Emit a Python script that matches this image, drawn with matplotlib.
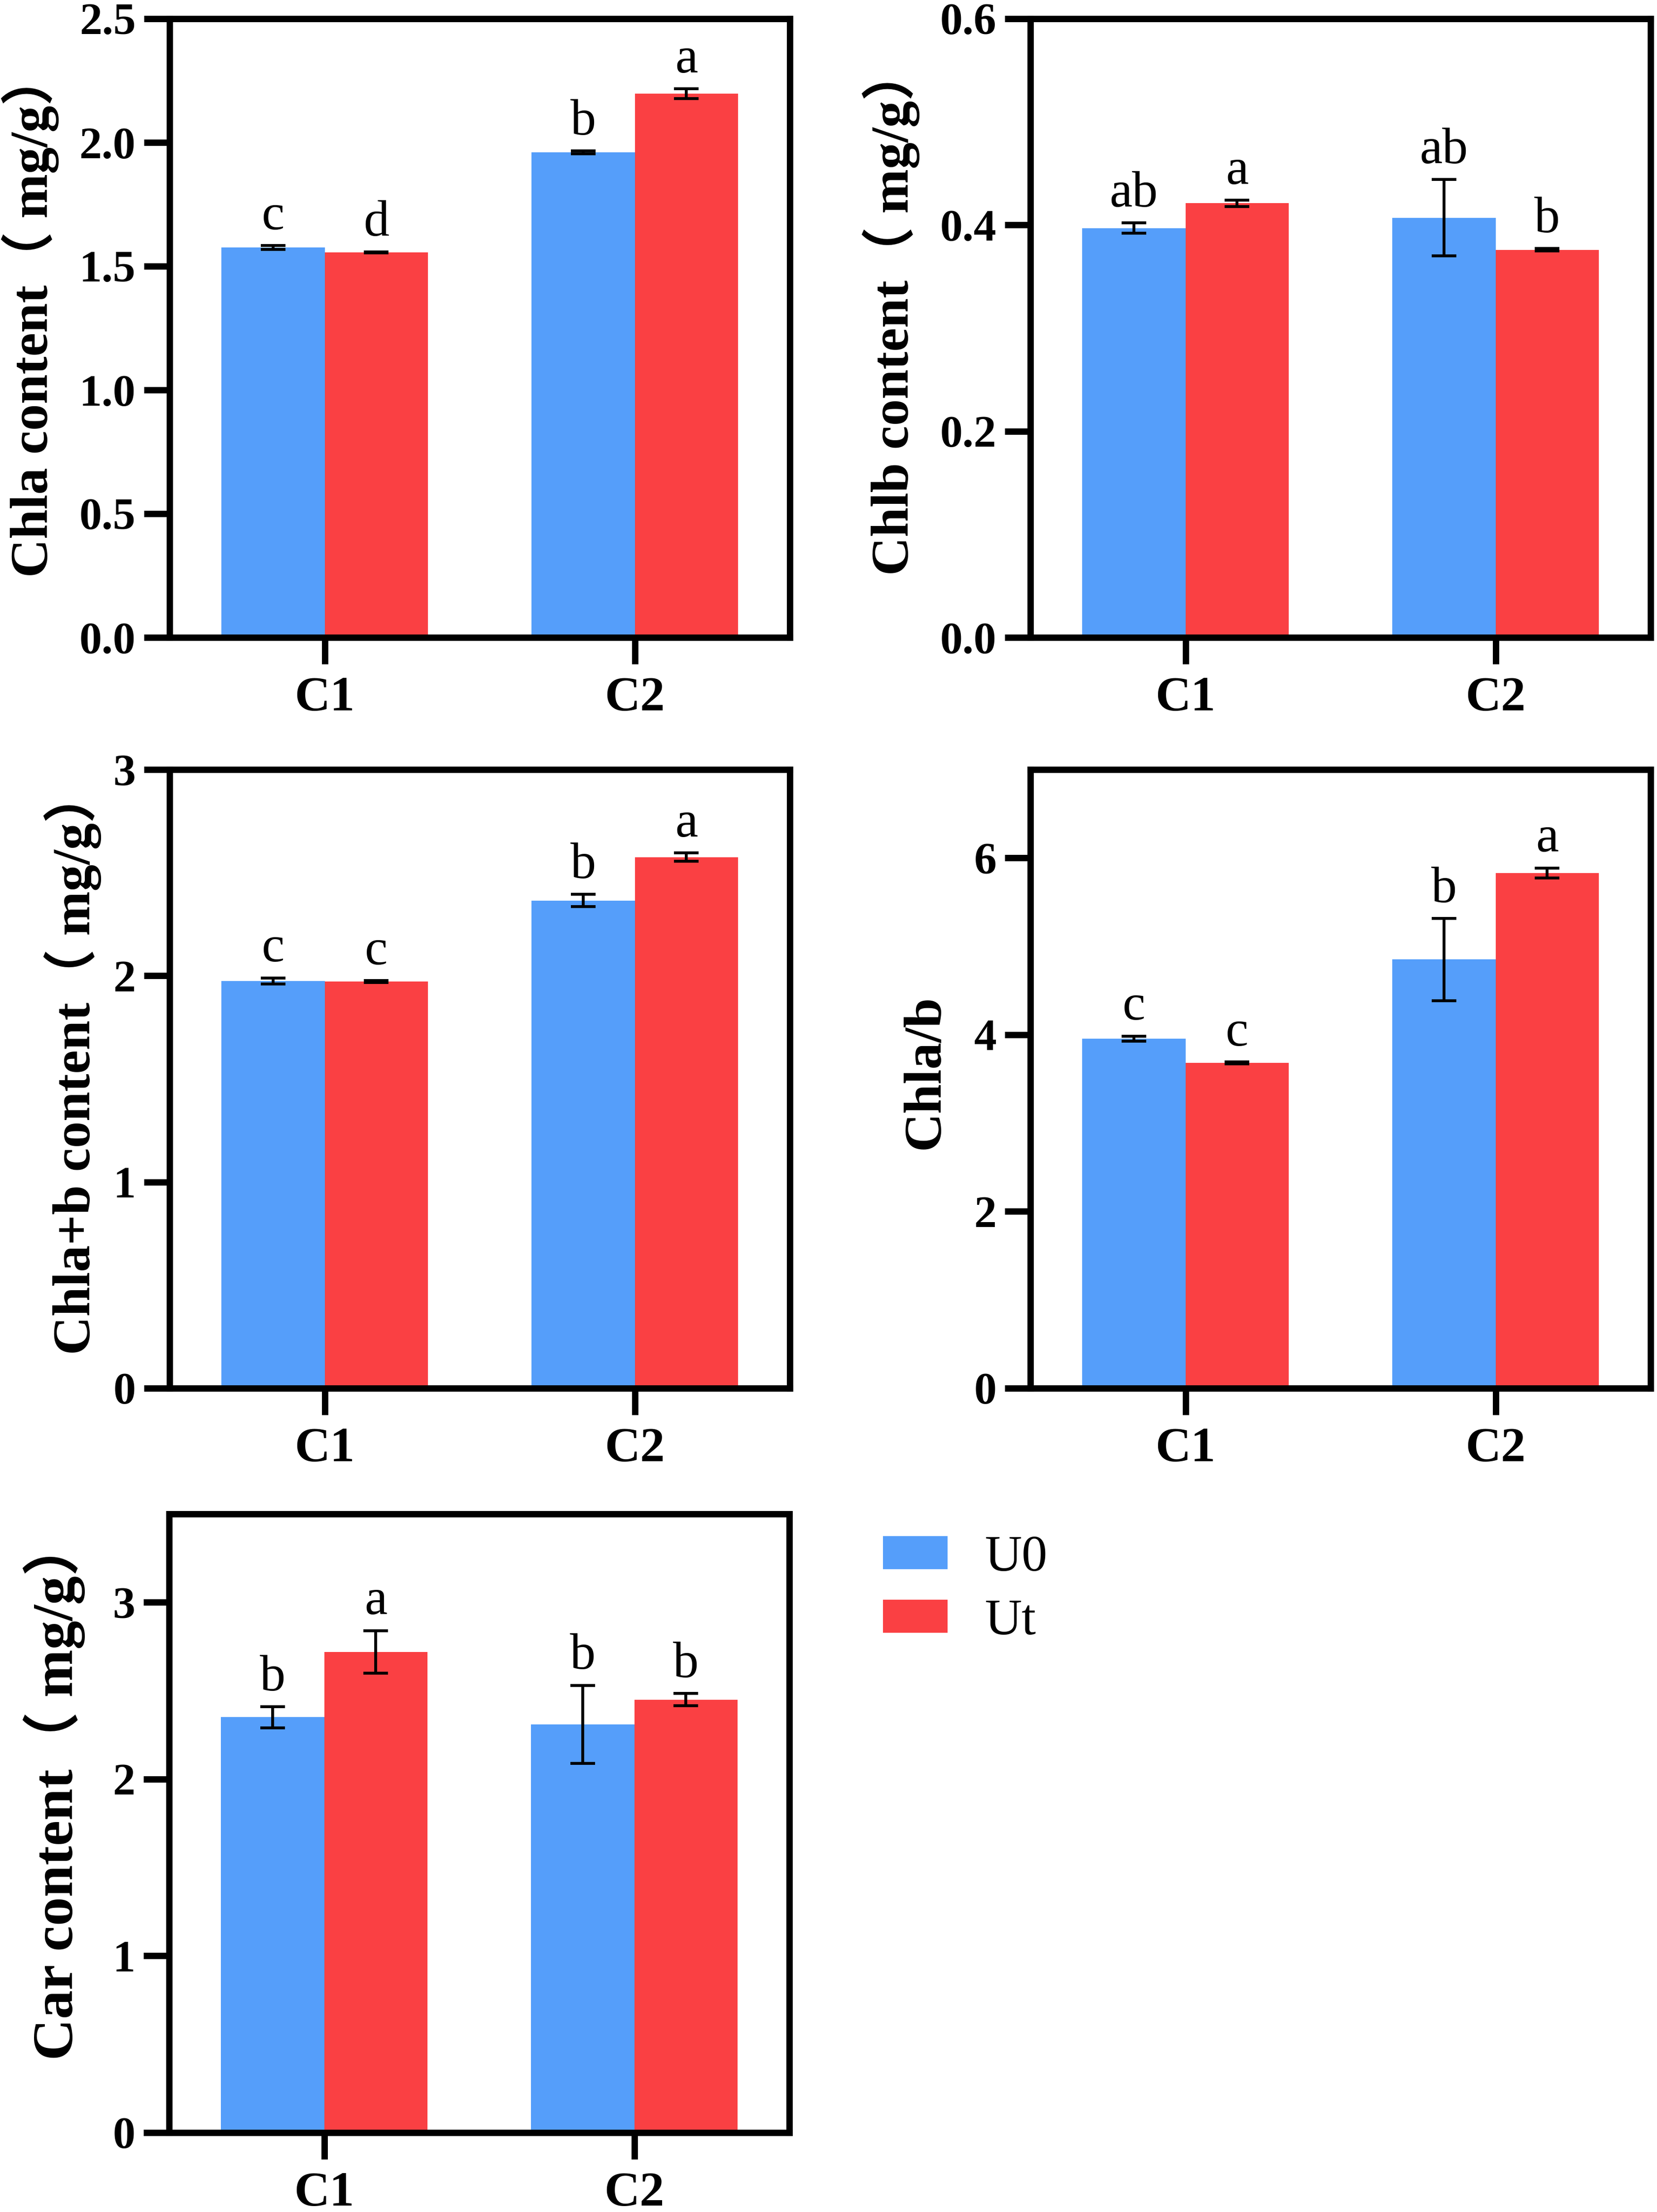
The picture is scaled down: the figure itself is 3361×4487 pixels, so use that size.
import matplotlib
matplotlib.use('Agg')
import matplotlib.pyplot as plt
from matplotlib.patches import Patch
import numpy as np

plt.rcParams['font.family'] = ['Liberation Serif', 'Noto Sans CJK SC']

# data
categories = ['C1', 'C2']
groups = ['U0', 'Ut']

chla_u0 = [1.575, 1.960]
chla_u0_err = [0.008, 0.006]
chla_ut = [1.555, 2.197]
chla_ut_err = [0.002, 0.020]
chla_u0_sig = ['c', 'b']
chla_ut_sig = ['d', 'a']
chla_ticks = [0.0, 0.5, 1.0, 1.5, 2.0, 2.5]
chla_ticklabels = ['0.0', '0.5', '1.0', '1.5', '2.0', '2.5']

chlb_u0 = [0.397, 0.407]
chlb_u0_err = [0.005, 0.037]
chlb_ut = [0.421, 0.376]
chlb_ut_err = [0.003, 0.001]
chlb_u0_sig = ['ab', 'ab']
chlb_ut_sig = ['a', 'b']
chlb_ticks = [0.0, 0.2, 0.4, 0.6]
chlb_ticklabels = ['0.0', '0.2', '0.4', '0.6']

chlab_u0 = [1.975, 2.365]
chlab_u0_err = [0.015, 0.030]
chlab_ut = [1.972, 2.575]
chlab_ut_err = [0.005, 0.020]
chlab_u0_sig = ['c', 'b']
chlab_ut_sig = ['c', 'a']
chlab_ticks = [0, 1, 2, 3]
chlab_ticklabels = ['0', '1', '2', '3']

ratio_u0 = [3.954, 4.850]
ratio_u0_err = [0.030, 0.465]
ratio_ut = [3.680, 5.830]
ratio_ut_err = [0.012, 0.056]
ratio_u0_sig = ['c', 'b']
ratio_ut_sig = ['c', 'a']
ratio_ticks = [0, 2, 4, 6]
ratio_ticklabels = ['0', '2', '4', '6']

car_u0 = [2.350, 2.310]
car_u0_err = [0.060, 0.220]
car_ut = [2.720, 2.450]
car_ut_err = [0.120, 0.035]
car_u0_sig = ['b', 'b']
car_ut_sig = ['a', 'b']
car_ticks = [0, 1, 2, 3]
car_ticklabels = ['0', '1', '2', '3']

BLUE = '#559efa'
RED = '#fa4043'
W_PX, H_PX = 3361, 4487
LW = 3.1


def draw_panel(rect, u0, u0_err, ut, ut_err, u0_sig, ut_sig, ymax, ticks, ticklabels,
               ylabel, label_xy, label_size=26):
    """rect in pixels: left, top, width, height."""
    l, t, w, h = rect
    ax = fig.add_axes([l / W_PX, 1 - (t + h) / H_PX, w / W_PX, h / H_PX])
    x = np.arange(len(categories))
    bw = 1 / 3.
    ax.bar(x - bw / 2, u0, bw, color=BLUE, linewidth=0, zorder=1)
    ax.bar(x + bw / 2, ut, bw, color=RED, linewidth=0, zorder=1)
    for xs, v, e, s in [(x - bw / 2, u0, u0_err, u0_sig), (x + bw / 2, ut, ut_err, ut_sig)]:
        ax.errorbar(xs, v, yerr=e, fmt='none', ecolor='black', elinewidth=1.4,
                    capsize=6, capthick=1.4, zorder=3)
        for xi, vi, ei, si in zip(xs, v, e, s):
            ax.annotate(si, (xi, vi + ei), xytext=(0, 8), textcoords='offset points',
                        ha='center', va='baseline', fontsize=25)
    ax.set_xlim(-0.5, 1.5)
    ax.set_ylim(0, ymax)
    ax.set_xticks(x)
    ax.set_xticklabels(categories, fontsize=24, fontweight='bold')
    ax.set_yticks(ticks)
    ax.set_yticklabels(ticklabels, fontsize=22, fontweight='bold')
    for sp in ax.spines.values():
        sp.set_linewidth(LW)
    ax.tick_params(axis='y', direction='out', length=12.5, width=LW, pad=4)
    ax.tick_params(axis='x', direction='out', length=13, width=LW, pad=6)
    ax.set_ylabel(ylabel, fontsize=label_size, fontweight='bold')
    ax.yaxis.set_label_coords(*label_xy)
    return ax


fig = plt.figure(figsize=(W_PX / 300, H_PX / 300), dpi=300)

draw_panel((344, 38, 1258, 1255), chla_u0, chla_u0_err, chla_ut, chla_ut_err,
           chla_u0_sig, chla_ut_sig, 2.5, chla_ticks, chla_ticklabels,
           'Chla content（ mg/g）', (-0.178, 0.522))
draw_panel((2090, 38, 1258, 1255), chlb_u0, chlb_u0_err, chlb_ut, chlb_ut_err,
           chlb_u0_sig, chlb_ut_sig, 0.6, chlb_ticks, chlb_ticklabels,
           'Chlb content（ mg/g）', (-0.178, 0.527))
draw_panel((344, 1561, 1258, 1255), chlab_u0, chlab_u0_err, chlab_ut, chlab_ut_err,
           chlab_u0_sig, chlab_ut_sig, 3, chlab_ticks, chlab_ticklabels,
           'Chla+b content（ mg/g）', (-0.11, 0.527))
draw_panel((2090, 1561, 1258, 1255), ratio_u0, ratio_u0_err, ratio_ut, ratio_ut_err,
           ratio_u0_sig, ratio_ut_sig, 7, ratio_ticks, ratio_ticklabels,
           'Chla/b', (-0.13, 0.511))
draw_panel((343, 3071, 1258, 1255), car_u0, car_u0_err, car_ut, car_ut_err,
           car_u0_sig, car_ut_sig, 3.5, car_ticks, car_ticklabels,
           'Car content（ mg/g）', (-0.135, 0.555), label_size=28)

# legend
handles = [Patch(facecolor=BLUE, edgecolor='none', label=groups[0]),
           Patch(facecolor=RED, edgecolor='none', label=groups[1])]
fig.legend(handles=handles, loc='upper left', bbox_to_anchor=(1791 / W_PX, 1 - 3114 / H_PX),
           frameon=False, fontsize=25, handlelength=1.26, handleheight=0.61,
           handletextpad=0.73, labelspacing=0.34, borderpad=0, borderaxespad=0)

fig.savefig('out.png', dpi=300)
